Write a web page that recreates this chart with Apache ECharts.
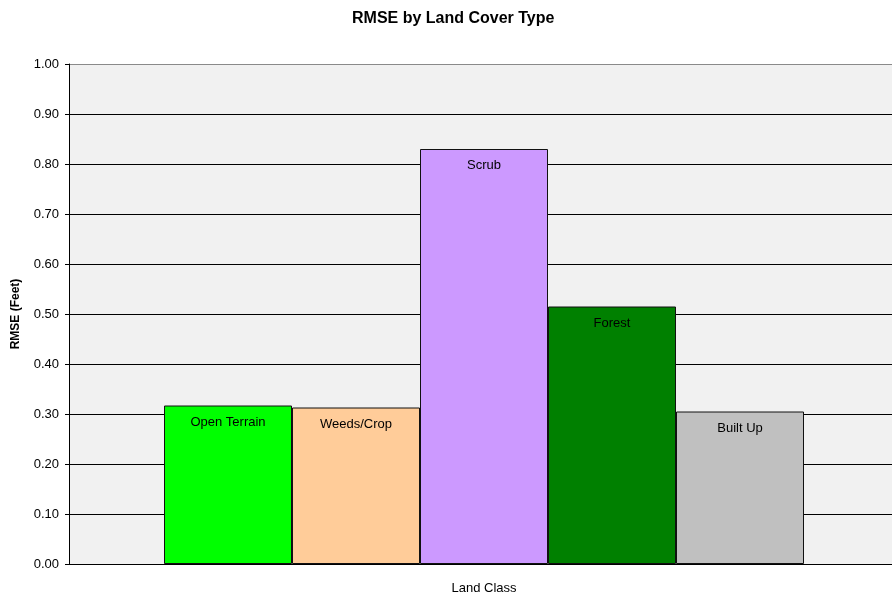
<!DOCTYPE html>
<html>
<head>
<meta charset="utf-8">
<script src="https://cdn.jsdelivr.net/npm/echarts@6/dist/echarts.min.js"></script>
<style>html,body{margin:0;padding:0;background:#fff}#c{width:892px;height:598px}</style>
</head>
<body>
<div id="c"></div>
<script>
const categories = ['Land Class'];
const seriesNames = ['Open Terrain', 'Weeds/Crop', 'Scrub', 'Forest', 'Built Up'];
const seriesValues = [0.317, 0.313, 0.830, 0.515, 0.305];
const seriesColors = ['#00ff00', '#ffcc99', '#cc99ff', '#008000', '#c0c0c0'];
const yTicks = [0, 0.1, 0.2, 0.3, 0.4, 0.5, 0.6, 0.7, 0.8, 0.9, 1.0];

const chart = echarts.init(document.getElementById('c'));
const font = 'Liberation Sans, Arial, sans-serif';
const gridColors = yTicks.map((v, i) => i === yTicks.length - 1 ? '#8a8a8a' : '#000');
chart.setOption({
  animation: false,
  textStyle: { fontFamily: font },
  title: {
    text: 'RMSE by Land Cover Type',
    left: 347, top: 6,
    textStyle: { fontFamily: font, fontSize: 16, fontWeight: 'bold', color: '#000' }
  },
  grid: { left: 69, right: -7, top: 64, bottom: 34, outerBoundsMode: 'none', containLabel: false, show: true, backgroundColor: '#f1f1f1', borderWidth: 0 },
  xAxis: {
    type: 'category',
    data: categories,
    axisLine: { lineStyle: { color: '#000', width: 1 } },
    axisTick: { show: false },
    axisLabel: { fontSize: 13, color: '#000', margin: 18, fontFamily: font }
  },
  yAxis: {
    type: 'value',
    min: 0, max: 1, interval: 0.1,
    name: 'RMSE (Feet)',
    nameLocation: 'middle',
    nameGap: 47,
    nameTextStyle: { fontSize: 12, fontWeight: 'bold', color: '#000', fontFamily: font },
    axisLine: { show: true, lineStyle: { color: '#000', width: 1 } },
    axisTick: { show: true, length: 4, lineStyle: { color: '#000' } },
    axisLabel: { fontSize: 13, color: '#000', margin: 10, fontFamily: font, formatter: v => v.toFixed(2) },
    splitLine: { show: true, lineStyle: { color: gridColors, width: 1 } }
  },
  series: seriesNames.map((name, i) => ({
    name: name,
    type: 'bar',
    data: [seriesValues[i]],
    barWidth: 128,
    barGap: '0%',
    itemStyle: { color: seriesColors[i], borderColor: '#111', borderWidth: 1 },
    label: {
      show: true, position: 'insideTop', distance: 10,
      formatter: name, fontSize: 13, color: '#000', fontFamily: font
    }
  }))
});
</script>
</body>
</html>
